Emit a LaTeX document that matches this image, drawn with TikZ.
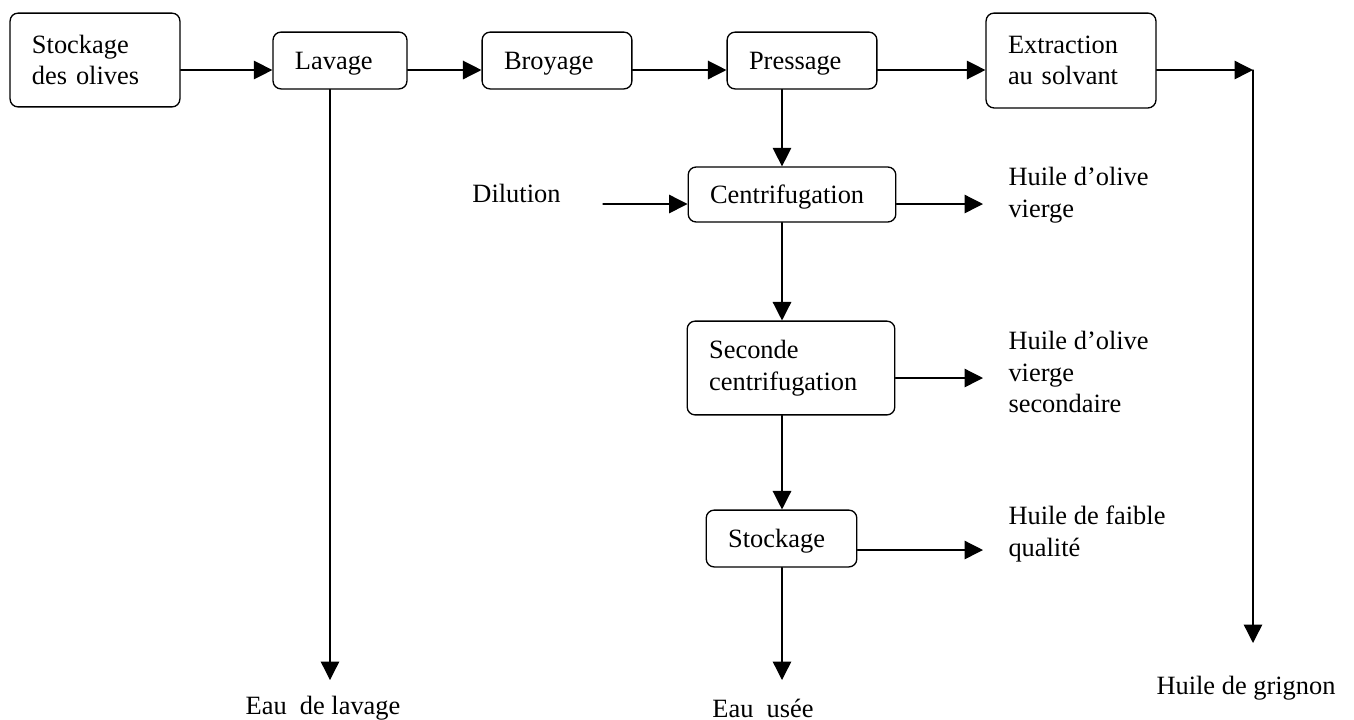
\documentclass[tikz,border=0pt]{standalone}
\usepackage{fontspec}
\setmainfont{Liberation Serif}
\usetikzlibrary{arrows.meta}
\begin{document}
\begin{tikzpicture}[line join=round,line cap=round,>={Triangle[length=7pt,width=7pt]},x=0.0133cm,y=-0.0133cm,line width=0.5pt,font=\normalsize]
	\tikzset{box/.style={draw,rounded corners=3pt,align=left,inner xsep=8.3pt,inner ysep=0pt},
		sortie/.style={align=left,inner xsep=9.4pt,inner ysep=0pt}}
	\useasboundingbox (0,0) rectangle (1354,719);
	\foreach \y/\n in {70/r1,204/r2,378/r3,550/r4} \coordinate (\n) at (0,\y);
	\coordinate (col) at (782,0);
	% boites
	\node[box,text width=47.7pt,minimum height=35.5pt] (sto) at (95,60) {Stockage\\des olives};
	\node[box,text width=34.1pt,minimum height=21.5pt,text depth=0pt] (lav) at (340,60.5) {Lavage};
	\node[box,text width=40.1pt,minimum height=21.5pt,text depth=0pt] (broy) at (557,60.5) {Broyage};
	\node[box,text width=40.1pt,minimum height=21.5pt,text depth=0pt] (press) at (802,60.5) {Pressage};
	\node[box,text width=47.7pt,minimum height=35.9pt] (extr) at (1071,60.5) {Extraction\\au solvant};
	\node[box,text width=62pt,minimum height=20.8pt,text depth=0pt] (centri) at (792,194.5) {Centrifugation};
	\node[box,text width=62pt,minimum height=35.5pt] (sec) at (791,368) {Seconde\\centrifugation};
	\node[box,text width=40.4pt,minimum height=21.5pt,text depth=0pt] (stk) at (781.5,538.5) {Stockage};
	% sorties
	\node[anchor=west] (dil) at (463,193) {Dilution};
	\node[sortie,anchor=west] (hov) at (983,195) {Huile d’olive\\vierge};
	\node[sortie,anchor=west] (hovs) at (983,372) {Huile d’olive\\vierge\\secondaire};
	\node[sortie,anchor=west] (hfq) at (983,534) {Huile de faible\\qualité};
	\node (el) at (323,708) {Eau\ \ de lavage};
	\node (eu) at (763,708) {Eau\ \ usée};
	\node (hg) at (1246,688) {Huile de grignon};
	\foreach \x/\y/\n in {330/680/wl,782/680/wu,1253/70/g1,1253/643/g2,603/204/d0} \coordinate (\n) at (\x,\y);
	% fleches
	\foreach \a/\b in {sto/lav,lav/broy,broy/press,press/extr} \draw[->] (\a.east|-r1)--(\b.west|-r1);
	\draw[->] (extr.east|-r1)--(g1);
	\draw[->] (g1)--(g2);
	\draw[->] (lav.south-|wl)--(wl);
	\draw[->] (d0)--(centri.west|-d0);
	\foreach \a/\b in {press/centri,centri/sec,sec/stk} \draw[->] (\a.south-|col)--(\b.north-|col);
	\draw[->] (stk.south-|col)--(wu);
	\draw[->] (centri.east|-r2)--(hov.west|-r2);
	\draw[->] (sec.east|-r3)--(hovs.west|-r3);
	\draw[->] (stk.east|-r4)--(hfq.west|-r4);
\end{tikzpicture}
\end{document}
